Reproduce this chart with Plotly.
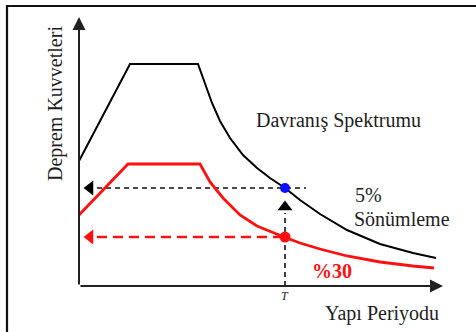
import plotly.graph_objects as go

# response spectrum, 5% damping (black) - period vs. earthquake force
periods_5 = [0.00, 1.02, 2.38, 2.52, 2.66, 2.82, 3.02, 3.28, 3.56, 3.82, 4.12, 4.42, 4.82, 5.36, 6.02, 6.68, 7.14]
force_5 = [2.50, 4.44, 4.44, 4.04, 3.66, 3.30, 2.96, 2.62, 2.36, 2.16, 1.96, 1.72, 1.44, 1.12, 0.84, 0.66, 0.56]

# response spectrum, 30% damping (red)
periods_30 = [0.00, 0.98, 2.42, 2.62, 2.88, 3.22, 3.56, 3.88, 4.10, 4.42, 4.82, 5.36, 6.02, 6.68, 7.10]
force_30 = [1.42, 2.44, 2.44, 2.08, 1.76, 1.42, 1.20, 1.06, 0.98, 0.86, 0.74, 0.60, 0.48, 0.40, 0.36]

# structure period and the forces read at it
period_T = 4.12
force_T_5 = 1.96
force_T_30 = 0.98

x_max = 7.28
y_max = 5.38

FONT = "Liberation Serif, Times New Roman, serif"
TEXT = "#1e1e1e"
AXIS = "#222222"
RED = "#ff1010"
BLUE = "#0a10ff"

fig = go.Figure()

# dashed guide lines
fig.add_trace(go.Scatter(x=[0.36, period_T + 0.42], y=[force_T_5, force_T_5], mode="lines",
                         line=dict(color="#111111", width=1.6, dash="5px,4px")))
fig.add_trace(go.Scatter(x=[period_T, period_T], y=[0, force_T_5 - 0.5], mode="lines",
                         line=dict(color="#111111", width=1.6, dash="5px,4px")))
fig.add_trace(go.Scatter(x=[0.36, period_T], y=[force_T_30, force_T_30], mode="lines",
                         line=dict(color=RED, width=2.6, dash="10px,6px")))

# spectra
fig.add_trace(go.Scatter(x=periods_5, y=force_5, mode="lines", line=dict(color="#000000", width=2)))
fig.add_trace(go.Scatter(x=periods_30, y=force_30, mode="lines", line=dict(color=RED, width=2.8)))

# arrow heads on the guide lines
fig.add_trace(go.Scatter(x=[0.22], y=[force_T_5], mode="markers",
                         marker=dict(symbol="triangle-left", size=13, color="#000000")))
fig.add_trace(go.Scatter(x=[0.22], y=[force_T_30], mode="markers",
                         marker=dict(symbol="triangle-left", size=13, color=RED)))
fig.add_trace(go.Scatter(x=[period_T], y=[force_T_5 - 0.38], mode="markers",
                         marker=dict(symbol="triangle-up", size=13, color="#000000")))

# points at T
fig.add_trace(go.Scatter(x=[period_T], y=[force_T_5], mode="markers",
                         marker=dict(size=10, color=BLUE)))
fig.add_trace(go.Scatter(x=[period_T], y=[force_T_30], mode="markers",
                         marker=dict(size=11, color=RED)))

# axes with arrows
for tip in [(0, y_max), (x_max, 0)]:
    fig.add_annotation(x=tip[0], y=tip[1], ax=0, ay=0, xref="x", yref="y", axref="x", ayref="y",
                       text="", showarrow=True, arrowhead=2, arrowsize=1.3, arrowwidth=2,
                       arrowcolor=AXIS)

labels = [
    ("Davranış Spektrumu", 3.50, 3.32, TEXT, False),
    ("5%", 5.48, 1.82, TEXT, False),
    ("Sönümleme", 5.46, 1.34, TEXT, False),
    ("%30", 4.62, 0.30, RED, True),
    ("Yapı Periyodu", 4.88, -0.54, TEXT, False),
]
for text, x, y, color, bold in labels:
    fig.add_annotation(x=x, y=y, xref="x", yref="y", text=f"<b>{text}</b>" if bold else text,
                       showarrow=False, xanchor="left", yanchor="middle",
                       font=dict(family=FONT, size=20, color=color))

fig.add_annotation(x=-0.48, y=3.64, xref="x", yref="y", text="Deprem Kuvvetleri", textangle=-90,
                   showarrow=False, font=dict(family=FONT, size=20, color=TEXT))
fig.add_annotation(x=period_T, y=-0.2, xref="x", yref="y", text="<i>T</i>", showarrow=False,
                   font=dict(family=FONT, size=12, color=TEXT))

# picture frame (top and left edges show)
fig.add_shape(type="rect", xref="paper", yref="paper", x0=7 / 476, y0=-0.2, x1=1.2, y1=1 - 6 / 332,
              line=dict(color="#111111", width=2.2))

fig.update_layout(
    width=476, height=332,
    margin=dict(l=0, r=0, t=0, b=0),
    paper_bgcolor="white", plot_bgcolor="white",
    showlegend=False,
    xaxis=dict(range=[-1.58, 7.94], visible=False, fixedrange=True),
    yaxis=dict(range=[-0.92, 5.72], visible=False, fixedrange=True),
)

# drop the page's default body margin so the figure sits at the window corner
fig.write_html("out.html", config={"displayModeBar": False},
               post_script="document.body.style.margin = '0';")
